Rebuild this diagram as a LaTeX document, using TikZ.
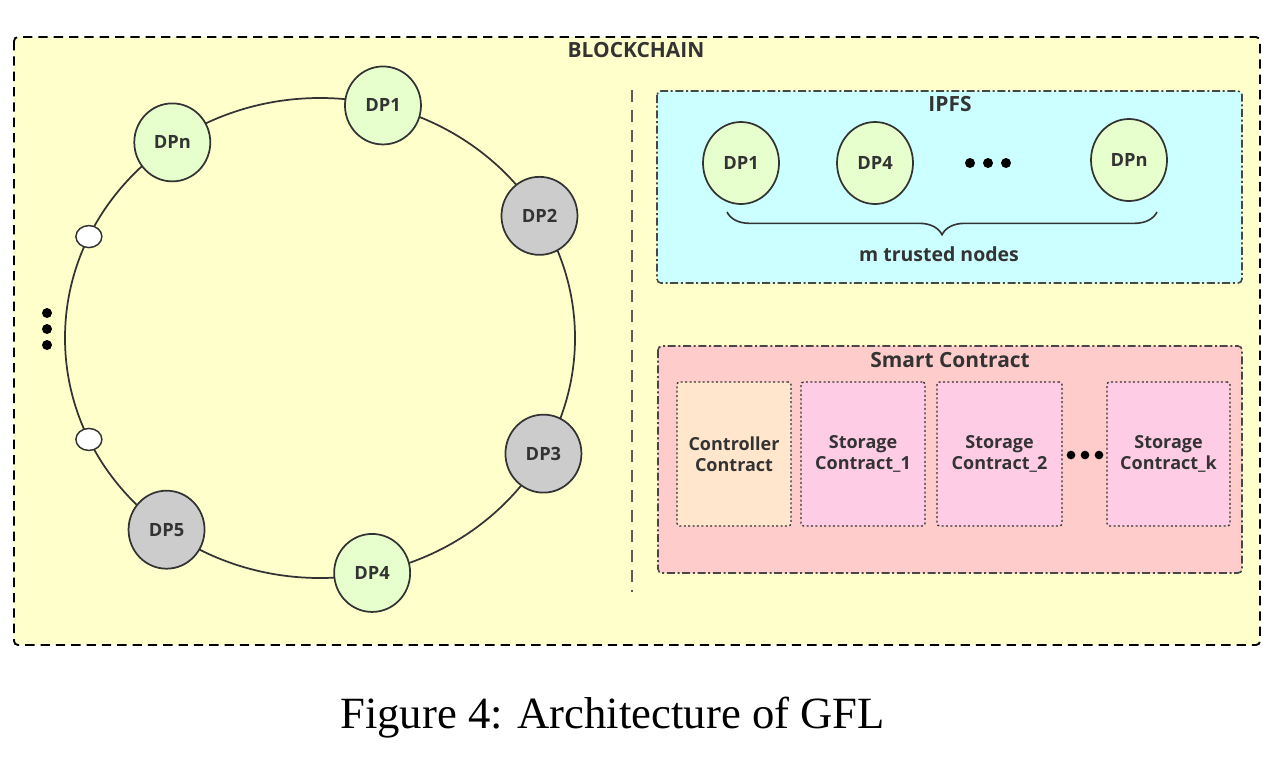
\documentclass[tikz,border=0pt]{standalone}
\usepackage{fontspec}
\setmainfont{Open Sans}
\newfontfamily\capfont{Liberation Serif}
\usetikzlibrary{decorations.pathreplacing,shapes.geometric,calc}
\definecolor{bgyellow}{HTML}{FFFFCC}
\definecolor{ipfscyan}{HTML}{CCFFFF}
\definecolor{scpink}{HTML}{FFCCCC}
\definecolor{ctrlpeach}{HTML}{FFE6CC}
\definecolor{storpink}{HTML}{FFCCE6}
\definecolor{dpgreen}{HTML}{E6FFCC}
\definecolor{dpgray}{HTML}{CCCCCC}
\definecolor{ink}{HTML}{333333}
\tikzset{
  dpnode/.style={ellipse, draw=ink, line width=1.3pt, minimum width=57pt, minimum height=58.5pt, inner sep=0pt,
    font=\fontsize{13.7}{15}\selectfont\bfseries, text=ink},
  dpgood/.style={dpnode, fill=dpgreen},
  dpbad/.style={dpnode, fill=dpgray},
  smallnode/.style={ellipse, draw=ink, line width=1.1pt, fill=white, minimum width=19.5pt, minimum height=16.5pt, inner sep=0pt},
  bigdot/.style={circle, fill=black, minimum size=7.5pt, inner sep=0pt},
  subbox/.style={draw=ink, line width=1pt, dash pattern=on 1.5pt off 1.8pt, rounded corners=2pt, inner sep=0pt,
    align=center, font=\fontsize{13.5}{16}\selectfont\bfseries, text=ink},
  boxtitle/.style={font=\fontsize{15.7}{17}\selectfont\bfseries, text=ink, inner sep=0pt},
  dashdot/.style={draw=ink!90, line width=1.2pt, dash pattern=on 6pt off 2pt on 1.5pt off 2pt, rounded corners=3pt}
}
\begin{document}
\begin{tikzpicture}[x=0.75pt,y=-0.75pt]
\useasboundingbox (0,0) rectangle (1276,758);
% outer blockchain box
\draw[fill=bgyellow, draw=black, line width=1.4pt, dash pattern=on 7pt off 4.5pt, rounded corners=3pt] (14,37) rectangle (1260,645);
\node[boxtitle] (bc) at (636,50) {BLOCKCHAIN};
% separator
\draw[ink!80, line width=0.8pt, dash pattern=on 9pt off 6pt] (632,90) -- (632,592);
% ring
\coordinate (ring) at (320,338);
\draw[ink, line width=1.3pt] (ring) ellipse [x radius=191.25pt, y radius=180pt];
\node[dpgood] (dp1) at ($(ring)+(75.7:191.25pt and 180pt)$) {DP1};
\node[dpbad] (dp2) at ($(ring)+(30.6:191.25pt and 180pt)$) {DP2};
\node[dpbad] (dp3) at ($(ring)+(-28.8:191.25pt and 180pt)$) {DP3};
\node[dpgood] (dp4) at ($(ring)+(-78.2:191.25pt and 180pt)$) {DP4};
\node[dpbad] (dp5) at ($(ring)+(-127:191.25pt and 180pt)$) {DP5};
\node[dpgood] (dpn) at ($(ring)+(125.4:191.25pt and 180pt)$) {DPn};
\node[smallnode] (w1) at ($(ring)+(155:191.25pt and 180pt)$) {};
\node[smallnode] (w2) at ($(ring)+(-155:191.25pt and 180pt)$) {};
\node[bigdot] (v1) at (47,313) {};
\node[bigdot] (v2) at (47,329) {};
\node[bigdot] (v3) at (47,345) {};
% IPFS
\draw[dashdot, fill=ipfscyan] (657,91) rectangle (1242,283);
\node[boxtitle] (ipfs) at (950,104) {IPFS};
\node[dpgood, minimum height=61.5pt] (ip1) at (741,163) {DP1};
\node[dpgood, minimum height=61.5pt] (ip4) at (875,163) {DP4};
\node[dpgood, minimum height=61.5pt] (ipn) at (1129,160) {DPn};
\node[bigdot] (id1) at (970,163) {};
\node[bigdot] (id2) at (988,163) {};
\node[bigdot] (id3) at (1006,163) {};
\draw[ink, line width=1.2pt, decorate, decoration={brace, amplitude=17pt, mirror}] (727,212) -- (1157,212);
\node[font=\fontsize{14.6}{16}\selectfont\bfseries, text=ink] (mt) at (939,254) {m trusted nodes};
% Smart contract
\draw[dashdot, fill=scpink] (658,346) rectangle (1242,573);
\node[boxtitle] (sc) at (950,360) {Smart Contract};
\node[subbox, fill=ctrlpeach, minimum width=85.5pt, minimum height=108pt] (ctrl) at (734,454) {Controller\\Contract};
\node[subbox, fill=storpink, minimum width=93pt, minimum height=108pt] (st1) at (863,454) {Storage\\Contract\_1};
\node[subbox, fill=storpink, minimum width=93.75pt, minimum height=108pt] (st2) at (999.5,454) {Storage\\Contract\_2};
\node[subbox, fill=storpink, minimum width=92.25pt, minimum height=108pt] (stk) at (1168.5,454) {Storage\\Contract\_k};
\node[bigdot, minimum size=6.5pt] (sd1) at (1071,455) {};
\node[bigdot, minimum size=6.5pt] (sd2) at (1085,455) {};
\node[bigdot, minimum size=6.5pt] (sd3) at (1099,455) {};
% caption
\node[font=\capfont\fontsize{33.5}{38}\selectfont] (cap) at (612.5,718) {Figure 4: Architecture of GFL};
\end{tikzpicture}
\end{document}
